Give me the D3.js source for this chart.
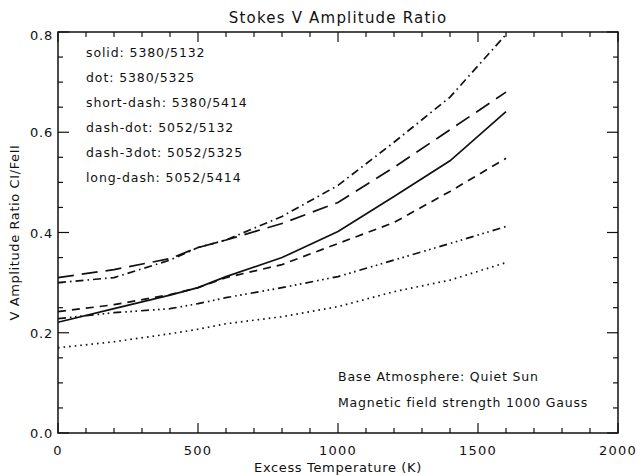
<!DOCTYPE html>
<html>
<head>
<meta charset="utf-8">
<script src="https://cdn.jsdelivr.net/npm/d3@7"></script>
<style>
  body { margin: 0; background: #fff; }
  text { font-family: "DejaVu Sans", sans-serif; fill: #111; }
</style>
</head>
<body>
<div class="chart"></div>
<script>
// excess temperature (K)
const temps = [0, 200, 400, 500, 600, 800, 1000, 1200, 1400, 1600];

// V amplitude ratios
const solid    = [0.221, 0.248, 0.275, 0.290, 0.312, 0.350, 0.402, 0.472, 0.543, 0.641];
const dotted   = [0.170, 0.182, 0.198, 0.207, 0.218, 0.232, 0.252, 0.282, 0.305, 0.340];
const shortDash = [0.242, 0.256, 0.276, 0.290, 0.310, 0.336, 0.378, 0.420, 0.482, 0.548];
const dashDot  = [0.300, 0.310, 0.345, 0.370, 0.385, 0.432, 0.494, 0.580, 0.670, 0.795];
const dash3Dot = [0.228, 0.240, 0.248, 0.258, 0.270, 0.290, 0.312, 0.345, 0.378, 0.412];
const longDash = [0.310, 0.326, 0.348, 0.370, 0.385, 0.418, 0.460, 0.530, 0.605, 0.680];

const legendLines = [
  'solid: 5380/5132',
  'dot: 5380/5325',
  'short-dash: 5380/5414',
  'dash-dot: 5052/5132',
  'dash-3dot: 5052/5325',
  'long-dash: 5052/5414'
];
const notes = ['Base Atmosphere: Quiet Sun', 'Magnetic field strength 1000 Gauss'];

const xTicks = [0, 500, 1000, 1500, 2000];
const yTicks = [0.0, 0.2, 0.4, 0.6, 0.8];

const series = [
  {vals: solid, dash: null},
  {vals: dotted, dash: '1.6,4'},
  {vals: shortDash, dash: '8,6'},
  {vals: dashDot, dash: '8,4,1.6,4'},
  {vals: dash3Dot, dash: '8,4,1.6,3.5,1.6,3.5,1.6,4'},
  {vals: longDash, dash: '16,8'}
];

let margin = {top: 32, right: 18, bottom: 42, left: 58};
let W = 636, H = 475;
let w = W - margin.left - margin.right;
let h = H - margin.top - margin.bottom;

let svg = d3.select('.chart').append('svg')
  .attr('width', W)
  .attr('height', H)
  .append('g')
    .attr('transform', `translate(${margin.left},${margin.top})`);

let x = d3.scaleLinear().domain([0, 2000]).range([0, w]);
let y = d3.scaleLinear().domain([0, 0.8]).range([h, 0]);

// frame
svg.append('rect')
  .attr('width', w).attr('height', h)
  .attr('fill', 'none').attr('stroke', '#111').attr('stroke-width', 1.5);

// ticks on all four sides, IDL style (inward)
const xMinor = d3.range(0, 2001, 100);
const yMinor = d3.range(0, 0.801, 0.05);
const isMajX = v => v % 500 === 0;
const isMajY = v => Math.abs(v / 0.2 - Math.round(v / 0.2)) < 1e-6;

let tk = svg.append('g').attr('stroke', '#111').attr('stroke-width', 1.2);
xMinor.forEach(v => {
  let len = isMajX(v) ? 10 : 5;
  tk.append('line').attr('x1', x(v)).attr('x2', x(v)).attr('y1', h).attr('y2', h - len);
  tk.append('line').attr('x1', x(v)).attr('x2', x(v)).attr('y1', 0).attr('y2', len);
});
yMinor.forEach(v => {
  let len = isMajY(v) ? 11 : 5;
  tk.append('line').attr('x1', 0).attr('x2', len).attr('y1', y(v)).attr('y2', y(v));
  tk.append('line').attr('x1', w).attr('x2', w - len).attr('y1', y(v)).attr('y2', y(v));
});

// tick labels
svg.selectAll('.xl').data(xTicks).enter().append('text')
  .attr('class', 'xl')
  .attr('x', d => x(d)).attr('y', h + 22)
  .attr('text-anchor', 'middle').attr('font-size', 13)
  .attr('letter-spacing', 1.2)
  .text(d => d);

svg.selectAll('.yl').data(yTicks).enter().append('text')
  .attr('class', 'yl')
  .attr('x', -5).attr('y', d => y(d) + 5 + (d === 0.8 ? 3 : 0))
  .attr('text-anchor', 'end').attr('font-size', 13)
  .attr('letter-spacing', 0.8)
  .text(d => d.toFixed(1));

// titles
svg.append('text')
  .attr('x', w / 2).attr('y', -9)
  .attr('text-anchor', 'middle').attr('font-size', 15)
  .attr('letter-spacing', 1.2)
  .text('Stokes V Amplitude Ratio');

svg.append('text')
  .attr('x', w / 2).attr('y', h + 39)
  .attr('text-anchor', 'middle').attr('font-size', 13)
  .attr('letter-spacing', 0.65)
  .text('Excess Temperature (K)');

svg.append('text')
  .attr('transform', `translate(${-39},${h / 2}) rotate(-90)`)
  .attr('text-anchor', 'middle').attr('font-size', 13)
  .attr('letter-spacing', 0.6)
  .text('V Amplitude Ratio CI/FeII');

// the curves
let line = d3.line()
  .x((d, i) => x(temps[i]))
  .y(d => y(d));

svg.selectAll('.curve').data(series).enter().append('path')
  .attr('class', 'curve')
  .attr('d', d => line(d.vals))
  .attr('fill', 'none')
  .attr('stroke', '#111')
  .attr('stroke-width', 1.7)
  .attr('stroke-dasharray', d => d.dash);

// legend text
svg.selectAll('.leg').data(legendLines).enter().append('text')
  .attr('class', 'leg')
  .attr('x', 28).attr('y', (d, i) => 25 + i * 25)
  .attr('font-size', 12.5)
  .attr('letter-spacing', 0.9)
  .text(d => d);

svg.selectAll('.note').data(notes).enter().append('text')
  .attr('class', 'note')
  .attr('x', 280).attr('y', (d, i) => 349 + i * 26)
  .attr('font-size', 12.5)
  .attr('letter-spacing', 0.8)
  .text(d => d);
</script>
</body>
</html>
